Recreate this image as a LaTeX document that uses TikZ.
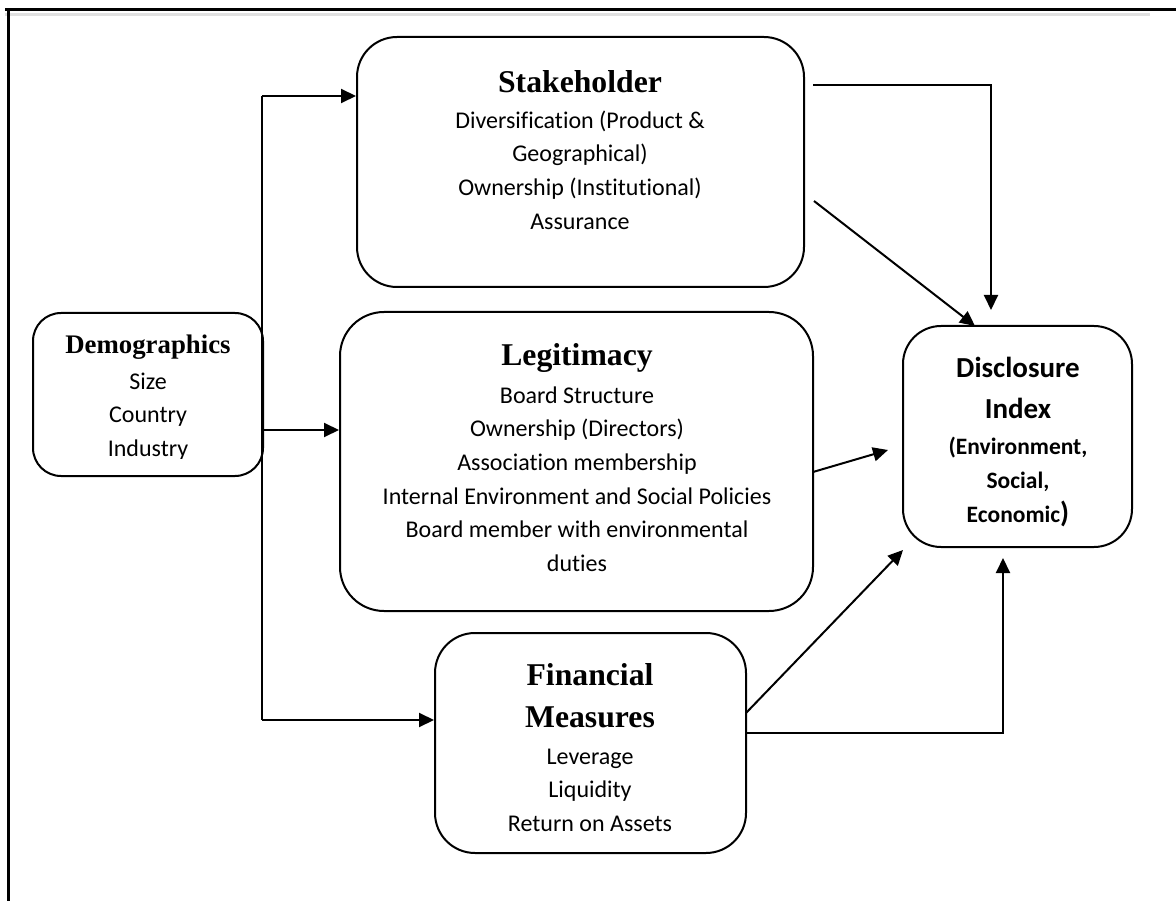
\documentclass[tikz,border=0pt]{standalone}
\usepackage{fontspec}
\setmainfont{Liberation Serif}
\newfontfamily\calfont[Ligatures=NoCommon]{Carlito}
\usetikzlibrary{arrows.meta,calc}

\newcommand{\headtxt}{\fontsize{31.7}{42}\selectfont\bfseries}
\newcommand{\demotxt}{\fontsize{26.8}{32}\selectfont\bfseries}
\newcommand{\bodytxt}{\calfont\fontsize{24}{33.6}\selectfont}
\newcommand{\discbig}{\calfont\bfseries\fontsize{29}{41}\selectfont}
\newcommand{\discsmall}{\calfont\bfseries\fontsize{23.5}{34}\selectfont}

\tikzset{
  box/.style={draw, line width=2pt, inner sep=0pt},
  txt/.style={inner sep=0pt, align=center},
  arr/.style={line width=2pt, -{Triangle[length=15pt,width=14pt]}},
  conn/.style={line width=2pt},
}

\begin{document}
\begin{tikzpicture}[x=1pt,y=-1pt]
\useasboundingbox (0,0) rectangle (1176,901);

% page frame
\draw[line width=3pt] (5,10) -- (1176,10);
\draw[line width=3pt, black, opacity=0.12] (5,15) -- (1150,15);
\draw[line width=3pt] (8,9) -- (8,901);

% boxes
\node[box, rounded corners=28pt, minimum width=230pt, minimum height=163pt] (demo) at (148,394.5) {};
\node[box, rounded corners=40pt, minimum width=447pt, minimum height=250pt] (stake) at (580.5,162) {};
\node[box, rounded corners=44pt, minimum width=473pt, minimum height=299pt] (legit) at (576.5,461.5) {};
\node[box, rounded corners=40pt, minimum width=311pt, minimum height=220pt] (fin) at (590.5,743) {};
\node[box, rounded corners=38pt, minimum width=229pt, minimum height=221pt] (disc) at (1017.5,436.5) {};

% texts
\node[txt, font=\demotxt] (demoH) at (148,347) {Demographics};
\begin{scope}
\clip (35,315) rectangle (261,458);
\node[txt, font=\bodytxt] (demoB) at (148,416.5) {Size\\Country\\Industry};
\end{scope}

\node[txt, font=\headtxt] (stakeH) at (580,82) {Stakeholder};
\node[txt, font=\bodytxt] (stakeB) at (580,170) {Diversification (Product \&\\Geographical)\\Ownership (Institutional)\\Assurance};

\node[txt, font=\headtxt] (legitH) at (577,358) {Legitimacy};
\node[txt, font=\bodytxt] (legitB) at (577,479) {Board Structure\\Ownership (Directors)\\Association membership\\Internal Environment and Social Policies\\Board member with environmental\\duties};

\node[txt, font=\headtxt] (finH) at (590,696) {Financial\\Measures};
\node[txt, font=\bodytxt] (finB) at (590,790) {Leverage\\Liquidity\\Return on Assets};

\node[txt, font=\discbig] (discH) at (1018,387.5) {Disclosure\\Index};
\node[txt, font=\discsmall] (discB) at (1018,482) {(Environment,\\Social,\\Economic{\fontsize{29}{34}\selectfont)}};

% connector points
\coordinate (trunkTop) at (262,96);
\coordinate (trunkBot) at (262,720);
\coordinate (legY) at (0,430);
\coordinate (sOutA) at (813,85);
\coordinate (dInA) at (991,310);
\coordinate (sOutB) at (814,201);
\coordinate (dInB) at (975,326);
\coordinate (lOut) at (813,472);
\coordinate (dInC) at (888,450);
\coordinate (fOutA) at (746,713);
\coordinate (dInD) at (903,550);
\coordinate (fOutB) at (746,733);
\coordinate (dInE) at (1003,558);

% demographics feeds the three groups
\draw[conn] (trunkTop) -- (trunkBot);
\draw[arr] (trunkTop) -- (stake.west |- trunkTop);
\draw[arr] (demo.east |- legY) -- (legit.west |- legY);
\draw[arr] (trunkBot) -- (fin.west |- trunkBot);

% groups feed the disclosure index
\draw[arr] (sOutA) -| (dInA);
\draw[arr] (sOutB) -- (dInB);
\draw[arr] (lOut) -- (dInC);
\draw[arr] (fOutA) -- (dInD);
\draw[arr] (fOutB) -| (dInE);
\end{tikzpicture}
\end{document}
